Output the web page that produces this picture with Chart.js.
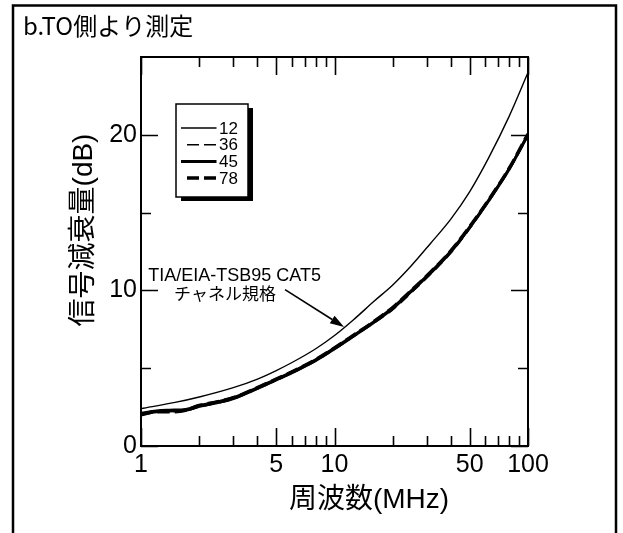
<!DOCTYPE html>
<html>
<head>
<meta charset="utf-8">
<script src="https://cdn.jsdelivr.net/npm/chart.js@4.4.1/dist/chart.umd.min.js"></script>
<style>
  html, body { margin: 0; padding: 0; background: #fff; }
  #wrap { width: 623px; height: 533px; position: relative; }
</style>
</head>
<body>
<div id="wrap"><canvas id="c" width="623" height="533"></canvas></div>
<script>
// ---- data ----
const chartTitle = 'b.TO側より測定';
const xTitle = '周波数(MHz)';
const yTitle = '信号減衰量(dB)';
const specLabel1 = 'TIA/EIA-TSB95 CAT5';
const specLabel2 = 'チャネル規格';

const specFreq   = [1, 1.5, 2, 3, 4, 5, 6, 8, 10, 12.5, 16, 20, 25, 31.25, 40, 50, 62.5, 80, 100];
const specValues = [2.4, 2.8, 3.15, 3.75, 4.3, 4.85, 5.35, 6.25, 7.1, 8.1, 9.3, 10.35, 11.6, 13.0, 14.6, 16.35, 18.5, 21.2, 24.0];

const measFreq = [1, 1.2, 1.4, 1.7, 2, 2.5, 3, 4, 5, 6, 8, 10, 12.5, 16, 20, 25, 31.25, 40, 50, 62.5, 80, 100];
const s12 = [2.15, 2.3, 2.35, 2.4, 2.65, 2.9, 3.15, 3.8, 4.35, 4.8, 5.6, 6.35, 7.15, 8.05, 8.95, 10.05, 11.2, 12.6, 14.15, 15.85, 17.9, 20.1];
const s36 = [2.0, 2.15, 2.2, 2.25, 2.5, 2.75, 3.0, 3.65, 4.2, 4.65, 5.45, 6.2, 7.0, 7.9, 8.75, 9.85, 11.0, 12.4, 13.95, 15.7, 17.75, 19.95];
const s45 = [2.05, 2.2, 2.25, 2.3, 2.55, 2.8, 3.05, 3.7, 4.25, 4.7, 5.5, 6.25, 7.05, 7.95, 8.85, 9.95, 11.1, 12.5, 14.05, 15.75, 17.8, 20.0];
const s78 = [2.0, 2.2, 2.2, 2.3, 2.6, 2.85, 3.1, 3.75, 4.3, 4.75, 5.55, 6.3, 7.1, 8.0, 8.9, 10.0, 11.15, 12.55, 14.1, 15.8, 17.85, 20.05];
const seriesLabels = ['12', '36', '45', '78'];

const xTickLabels = [1, 5, 10, 50, 100];
const xMinorTicks = [2, 3, 4, 6, 7, 8, 9, 20, 30, 40, 60, 70, 80, 90];
const yTickLabels = [0, 10, 20];
const yMinorTicks = [5, 15];

// ---- helpers ----
const LATIN = '"Liberation Sans", "Noto Sans CJK JP", sans-serif';
const pts = (xs, ys) => xs.map((x, i) => ({ x: x, y: ys[i] }));

const frameAndText = {
  id: 'frameAndText',
  beforeDraw(chart) {
    const ctx = chart.ctx;
    ctx.save();
    ctx.fillStyle = '#fff';
    ctx.fillRect(0, 0, chart.width, chart.height);
    ctx.strokeStyle = '#000';
    ctx.lineWidth = 2.5;
    ctx.strokeRect(13, 5.5, 603, 600);
    ctx.fillStyle = '#000';
    ctx.font = '24px "Noto Sans CJK JP", sans-serif';
    ctx.textBaseline = 'middle';
    ctx.textAlign = 'left';
    ctx.fillText(chartTitle, 23, 26);
    ctx.restore();
  },
  afterDraw(chart) {
    const ctx = chart.ctx;
    const a = chart.chartArea;
    const xs = chart.scales.x, ys = chart.scales.y;
    ctx.save();
    ctx.strokeStyle = '#000';
    ctx.lineWidth = 2;
    ctx.strokeRect(a.left, a.top, a.right - a.left, a.bottom - a.top);
    // inward ticks
    ctx.lineWidth = 1.6;
    ctx.beginPath();
    const xt = (v, len) => {
      const p = Math.round(xs.getPixelForValue(v)) + 0.5;
      ctx.moveTo(p, a.bottom); ctx.lineTo(p, a.bottom - len);
      ctx.moveTo(p, a.top); ctx.lineTo(p, a.top + len);
    };
    const yt = (v, len) => {
      const p = Math.round(ys.getPixelForValue(v)) + 0.5;
      ctx.moveTo(a.left, p); ctx.lineTo(a.left + len, p);
      ctx.moveTo(a.right, p); ctx.lineTo(a.right - len, p);
    };
    xTickLabels.forEach(v => xt(v, 18));
    xMinorTicks.forEach(v => xt(v, 10));
    yTickLabels.forEach(v => yt(v, 17));
    yMinorTicks.forEach(v => yt(v, 10));
    ctx.stroke();

    // axis titles
    ctx.fillStyle = '#000';
    ctx.font = '28px ' + LATIN;
    ctx.textAlign = 'center';
    ctx.textBaseline = 'middle';
    ctx.fillText(xTitle, 369, 500);
    ctx.save();
    ctx.translate(84, 230);
    ctx.rotate(-Math.PI / 2);
    ctx.fillText(yTitle, 0, 0);
    ctx.restore();

    // annotation
    ctx.font = '18px ' + LATIN;
    ctx.textAlign = 'left';
    ctx.fillText(specLabel1, xs.getPixelForValue(1.09), ys.getPixelForValue(10.95));
    ctx.font = '17px "Noto Sans CJK JP", sans-serif';
    ctx.textAlign = 'center';
    ctx.fillText(specLabel2, xs.getPixelForValue(2.72), ys.getPixelForValue(9.8));
    const x0 = xs.getPixelForValue(5.55), y0 = ys.getPixelForValue(10.05);
    const x1 = xs.getPixelForValue(11.2), y1 = ys.getPixelForValue(7.65);
    const ang = Math.atan2(y1 - y0, x1 - x0);
    const hl = 14, hw = 4.5;
    const bx = x1 - hl * Math.cos(ang), by = y1 - hl * Math.sin(ang);
    ctx.lineWidth = 1.6;
    ctx.beginPath(); ctx.moveTo(x0, y0); ctx.lineTo(bx, by); ctx.stroke();
    ctx.beginPath();
    ctx.moveTo(x1, y1);
    ctx.lineTo(bx + hw * Math.sin(ang), by - hw * Math.cos(ang));
    ctx.lineTo(bx - hw * Math.sin(ang), by + hw * Math.cos(ang));
    ctx.closePath(); ctx.fill();

    // legend box
    const lx = 176, ly = 104, lw = 72, lh = 93;
    ctx.fillRect(lx + 5, ly + 4, lw, lh);
    ctx.fillStyle = '#fff';
    ctx.fillRect(lx, ly, lw, lh);
    ctx.lineWidth = 1.5;
    ctx.strokeRect(lx, ly, lw, lh);
    const dsets = chart.data.datasets.filter(d => d.inLegend);
    ctx.font = '17px ' + LATIN;
    ctx.textAlign = 'left';
    ctx.fillStyle = '#000';
    dsets.forEach((d, i) => {
      const yy = 128 + i * 16.7;
      const dashed = d.borderDash && d.borderDash.length;
      ctx.save();
      ctx.lineWidth = d.borderWidth;
      ctx.setLineDash(dashed ? [12, 5] : []);
      ctx.lineCap = 'butt';
      ctx.beginPath(); ctx.moveTo(dashed ? 187 : 181, yy); ctx.lineTo(216.5, yy); ctx.stroke();
      ctx.restore();
      ctx.fillText(d.label, 219, yy + 1);
    });
    ctx.restore();
  }
};

const lineStyle = { borderColor: '#000', pointRadius: 0, cubicInterpolationMode: 'monotone' };

new Chart(document.getElementById('c'), {
  type: 'line',
  data: {
    datasets: [
      Object.assign({ label: 'spec', data: pts(specFreq, specValues), borderWidth: 1.4, inLegend: false }, lineStyle),
      Object.assign({ label: seriesLabels[0], data: pts(measFreq, s12), borderWidth: 1.4, inLegend: true }, lineStyle),
      Object.assign({ label: seriesLabels[1], data: pts(measFreq, s36), borderWidth: 1.4, borderDash: [10, 6], inLegend: true }, lineStyle),
      Object.assign({ label: seriesLabels[2], data: pts(measFreq, s45), borderWidth: 3, inLegend: true }, lineStyle),
      Object.assign({ label: seriesLabels[3], data: pts(measFreq, s78), borderWidth: 3.5, borderDash: [12, 5], inLegend: true }, lineStyle)
    ]
  },
  options: {
    responsive: false,
    animation: false,
    devicePixelRatio: 1,
    layout: { padding: { left: 0, right: 95, top: 57, bottom: 0 } },
    plugins: { legend: { display: false }, title: { display: false }, tooltip: { enabled: false } },
    scales: {
      x: {
        type: 'logarithmic', min: 1, max: 100,
        afterBuildTicks: s => { s.ticks = xTickLabels.map(v => ({ value: v })); },
        afterFit: s => { s.height = 87; },
        grid: { display: false, drawTicks: false },
        border: { display: false },
        ticks: { color: '#000', font: { family: LATIN, size: 25 }, padding: 4, maxRotation: 0, autoSkip: false, callback: v => String(v) }
      },
      y: {
        type: 'linear', min: 0, max: 25,
        afterBuildTicks: s => { s.ticks = yTickLabels.map(v => ({ value: v })); },
        afterFit: s => { s.width = 141; },
        grid: { display: false, drawTicks: false },
        border: { display: false },
        ticks: { color: '#000', font: { family: LATIN, size: 25 }, padding: 4, callback: v => String(v) }
      }
    }
  },
  plugins: [frameAndText]
});
</script>
</body>
</html>
